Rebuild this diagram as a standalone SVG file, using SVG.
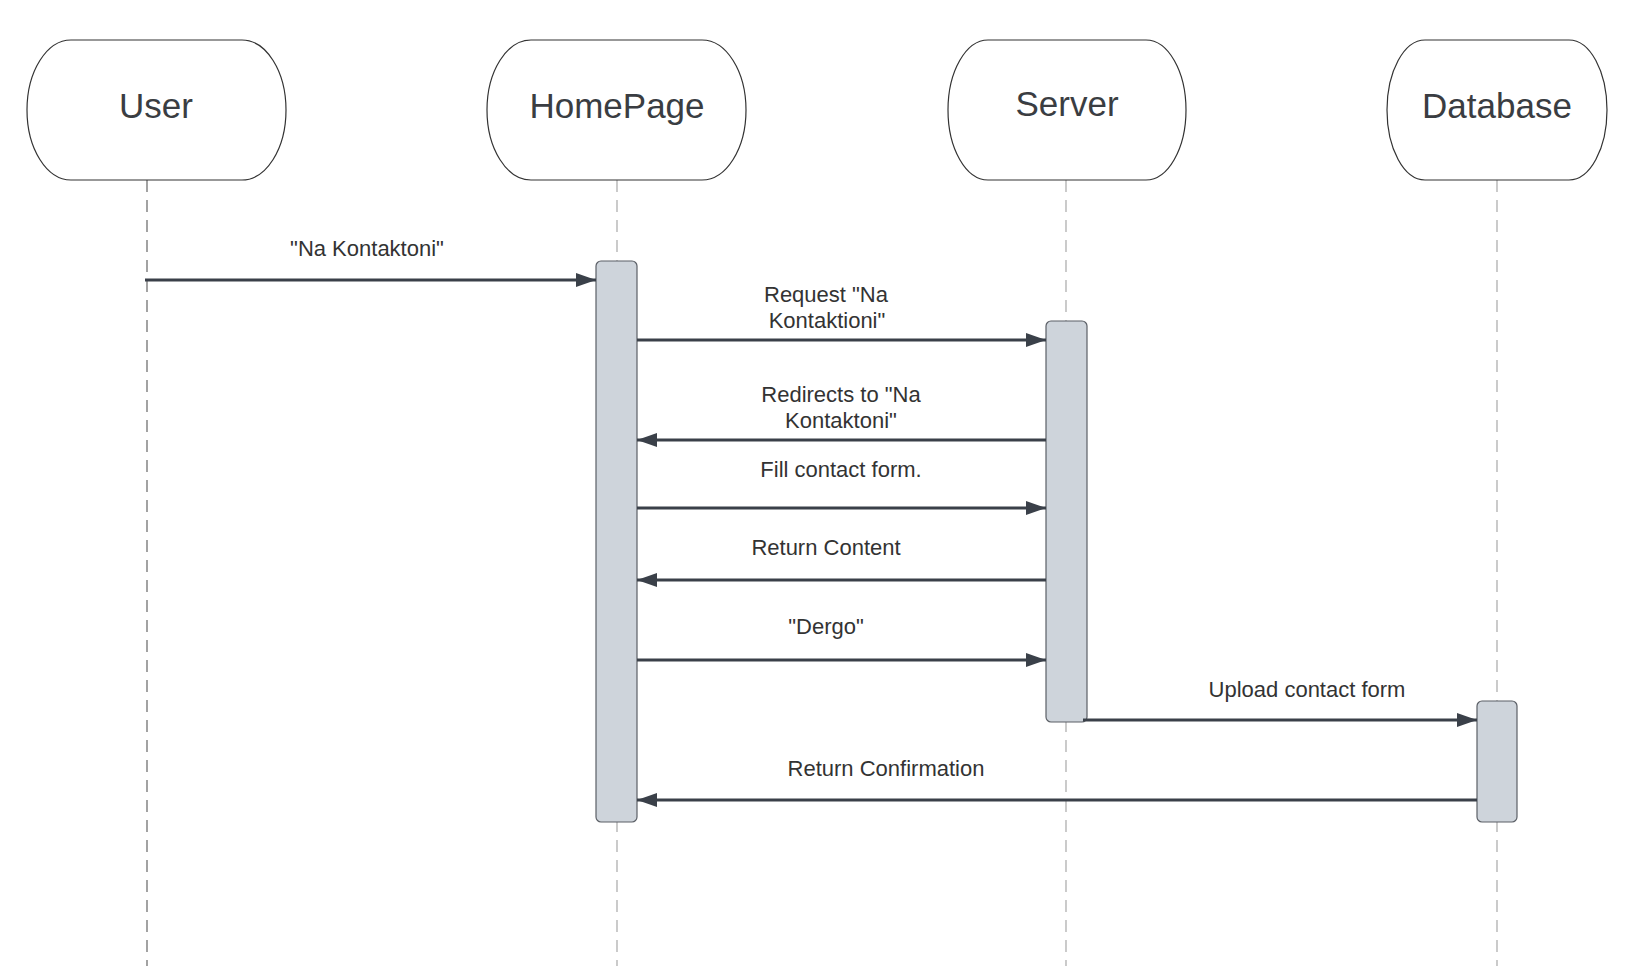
<svg xmlns="http://www.w3.org/2000/svg" width="1633" height="971" viewBox="0 0 1633 971">
<style>
.head{fill:#fff;stroke:#333;stroke-width:1.2}
.title{font-family:"Liberation Sans",Arial,sans-serif;font-size:35px;fill:#3a3d42;text-anchor:middle}
.lbl{font-family:"Liberation Sans",Arial,sans-serif;font-size:22px;fill:#333;text-anchor:middle}
.life{stroke:#a8a8a8;stroke-width:1.2;stroke-dasharray:12 8;fill:none}
.life.dark{stroke:#666}
.bar{fill:#ced4db;stroke:#5b5f66;stroke-width:1.2}
.msg{stroke:#3a4049;stroke-width:3;fill:none;marker-end:url(#ah)}
</style>
<defs>
<marker id="ah" viewBox="0 0 20 14" refX="20" refY="7" markerWidth="20" markerHeight="14" markerUnits="userSpaceOnUse" orient="auto">
<path d="M0,0 L20,7 L0,14 Z" fill="#3a4049"/>
</marker>
</defs>
<rect width="1633" height="971" fill="#fff"/>
<g id="lifelines">
<line class="life dark" x1="147" y1="180" x2="147" y2="966"/>
<line class="life" x1="617" y1="180" x2="617" y2="966"/>
<line class="life" x1="1066" y1="180" x2="1066" y2="966"/>
<line class="life" x1="1497" y1="180" x2="1497" y2="966"/>
</g>
<g id="user">
<rect class="head" x="27" y="40" width="259" height="140" rx="44" ry="70"/>
<text class="title" x="156" y="118">User</text>
</g>
<g id="homepage">
<rect class="head" x="487" y="40" width="259" height="140" rx="44" ry="70"/>
<text class="title" x="617" y="118">HomePage</text>
<rect class="bar" x="596" y="261" width="41" height="561" rx="5"/>
</g>
<g id="server">
<rect class="head" x="948" y="40" width="238" height="140" rx="40" ry="70"/>
<text class="title" x="1067" y="116">Server</text>
<rect class="bar" x="1046" y="321" width="41" height="401" rx="5"/>
</g>
<g id="database">
<rect class="head" x="1387" y="40" width="220" height="140" rx="38" ry="70"/>
<text class="title" x="1497" y="118">Database</text>
<rect class="bar" x="1477" y="701" width="40" height="121" rx="5"/>
</g>
<g id="connectors">
<line class="msg" x1="145" y1="280" x2="596" y2="280"/>
<line class="msg" x1="637" y1="340" x2="1046" y2="340"/>
<line class="msg" x1="1046" y1="440" x2="637" y2="440"/>
<line class="msg" x1="637" y1="508" x2="1046" y2="508"/>
<line class="msg" x1="1046" y1="580" x2="637" y2="580"/>
<line class="msg" x1="637" y1="660" x2="1046" y2="660"/>
<line class="msg" x1="1083" y1="720" x2="1477" y2="720"/>
<line class="msg" x1="1477" y1="800" x2="637" y2="800"/>
</g>
<g id="labels">
<text class="lbl" x="367" y="256">"Na Kontaktoni"</text>
<text class="lbl" x="826" y="302">Request "Na</text>
<text class="lbl" x="827" y="328">Kontaktioni"</text>
<text class="lbl" x="841" y="402">Redirects to "Na</text>
<text class="lbl" x="841" y="428">Kontaktoni"</text>
<text class="lbl" x="841" y="477">Fill contact form.</text>
<text class="lbl" x="826" y="555">Return Content</text>
<text class="lbl" x="826" y="634">"Dergo"</text>
<text class="lbl" x="1307" y="697">Upload contact form</text>
<text class="lbl" x="886" y="776">Return Confirmation</text>
</g>
</svg>
